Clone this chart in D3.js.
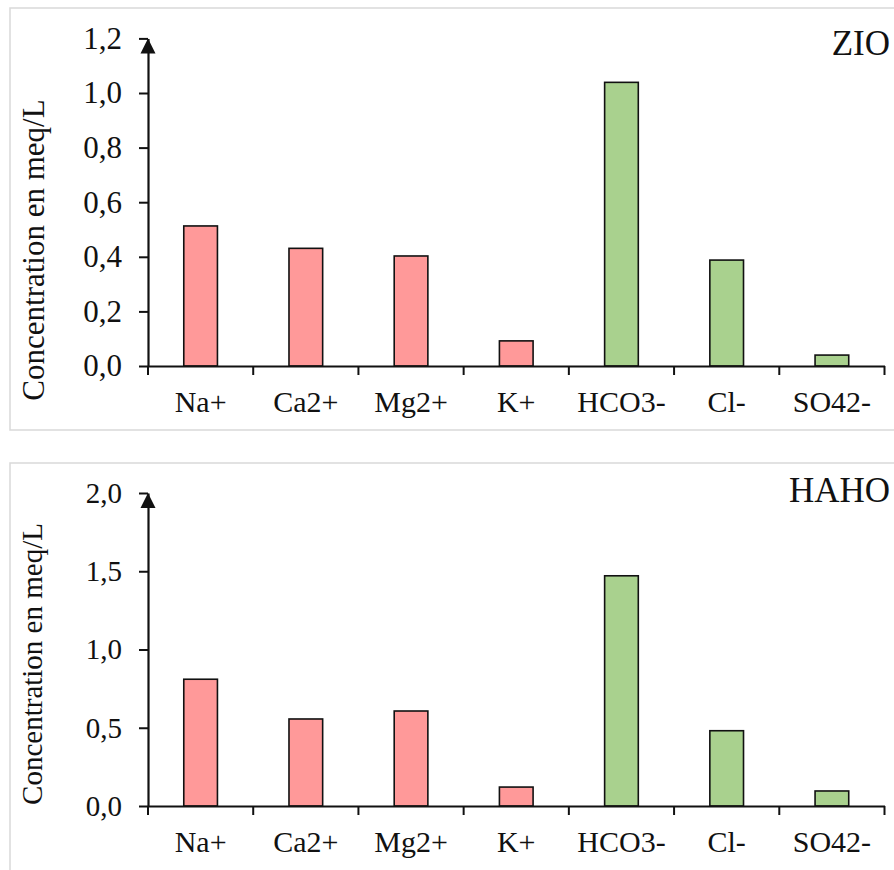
<!DOCTYPE html>
<html>
<head>
<meta charset="utf-8">
<script src="https://cdn.jsdelivr.net/npm/d3@7"></script>
<style>
  html, body { margin: 0; padding: 0; background: #ffffff; }
  svg { display: block; }
  text { font-family: "Liberation Serif", "Times New Roman", serif; fill: #111; }
</style>
</head>
<body>
<svg id="chart" width="894" height="870"></svg>
<script>
// ---- data ----
const categories = ["Na+", "Ca2+", "Mg2+", "K+", "HCO3-", "Cl-", "SO42-"];
const ionType = ["cation", "cation", "cation", "cation", "anion", "anion", "anion"];
const zioValues = [0.513, 0.431, 0.403, 0.092, 1.039, 0.388, 0.040];
const hahoValues = [0.810, 0.556, 0.607, 0.121, 1.471, 0.481, 0.096];
const zioTicks = [0, 0.2, 0.4, 0.6, 0.8, 1.0, 1.2];
const hahoTicks = [0, 0.5, 1.0, 1.5, 2.0];
const panelTitles = ["ZIO", "HAHO"];
const yLabel = "Concentration en meq/L";

const colors = { cation: "#ff9999", anion: "#a9d18e" };
const svg = d3.select("#chart");

const panels = [
  { title: panelTitles[0], values: zioValues, ticks: zioTicks, max: 1.2,
    box: { x: 10, y: 8, w: 900, h: 422 }, y0: 366, yTop: 38.4,
    tickFont: 31, labelFont: 31, labelX: 44, labelY: 250, titleY: 55 },
  { title: panelTitles[1], values: hahoValues, ticks: hahoTicks, max: 2.0,
    box: { x: 10, y: 463, w: 900, h: 420 }, y0: 806, yTop: 493,
    tickFont: 29, labelFont: 29, labelX: 42, labelY: 664, titleY: 502 }
];

const fmt = d => d3.format(".1f")(d).replace(".", ",");

panels.forEach(p => {
  const g = svg.append("g");
  // panel frame
  g.append("rect")
    .attr("x", p.box.x).attr("y", p.box.y)
    .attr("width", p.box.w).attr("height", p.box.h)
    .attr("fill", "#fff").attr("stroke", "#d9d9d9").attr("stroke-width", 1.5);

  const x = d3.scaleBand().domain(categories).range([148, 884.5]).padding(0);
  const y = d3.scaleLinear().domain([0, p.max]).range([p.y0, p.yTop]);

  // bars
  const bw = x.bandwidth() * 0.32;
  g.selectAll("rect.bar").data(categories).enter().append("rect")
    .attr("class", "bar")
    .attr("x", c => x(c) + x.bandwidth() / 2 - bw / 2)
    .attr("width", bw)
    .attr("y", (c, i) => y(p.values[i]))
    .attr("height", (c, i) => y(0) - y(p.values[i]))
    .attr("fill", (c, i) => colors[ionType[i]])
    .attr("stroke", "#111").attr("stroke-width", 1.6);

  // y axis
  const yAxis = d3.axisLeft(y).tickValues(p.ticks).tickFormat(fmt)
    .tickSize(9).tickSizeOuter(0).tickPadding(17);
  const ya = g.append("g").attr("transform", "translate(148,0)").call(yAxis);
  ya.select(".domain").attr("stroke", "#111").attr("stroke-width", 2.2);
  ya.selectAll(".tick line").attr("stroke", "#111").attr("stroke-width", 2);
  ya.selectAll(".tick text").attr("font-size", p.tickFont)
    .attr("font-family", "Liberation Serif, Times New Roman, serif").attr("fill", "#111");
  // arrow head
  const yt = y(p.max);
  g.append("path")
    .attr("d", `M148,${yt} L140.5,${yt + 15} L155.5,${yt + 15} Z`)
    .attr("fill", "#111");

  // x axis
  const xAxis = d3.axisBottom(x).tickSize(0).tickSizeOuter(0);
  const xa = g.append("g").attr("transform", `translate(0,${p.y0})`).call(xAxis);
  xa.select(".domain").attr("stroke", "#111").attr("stroke-width", 2.2);
  xa.selectAll(".tick text").attr("font-size", 30).attr("dy", null).attr("y", 46)
    .attr("font-family", "Liberation Serif, Times New Roman, serif").attr("fill", "#111");
  // category boundary ticks
  const bounds = categories.map(c => x(c)).concat([x.range()[1]]);
  g.selectAll("line.bt").data(bounds).enter().append("line")
    .attr("class", "bt")
    .attr("x1", d => d).attr("x2", d => d)
    .attr("y1", p.y0).attr("y2", p.y0 + 9)
    .attr("stroke", "#111").attr("stroke-width", 2);

  // y label
  g.append("text")
    .attr("transform", `translate(${p.labelX},${p.labelY}) rotate(-90)`)
    .attr("text-anchor", "middle")
    .attr("font-size", p.labelFont)
    .text(yLabel);

  // title
  g.append("text")
    .attr("x", 890).attr("y", p.titleY)
    .attr("text-anchor", "end")
    .attr("font-size", 35)
    .text(p.title);
});
</script>
</body>
</html>
